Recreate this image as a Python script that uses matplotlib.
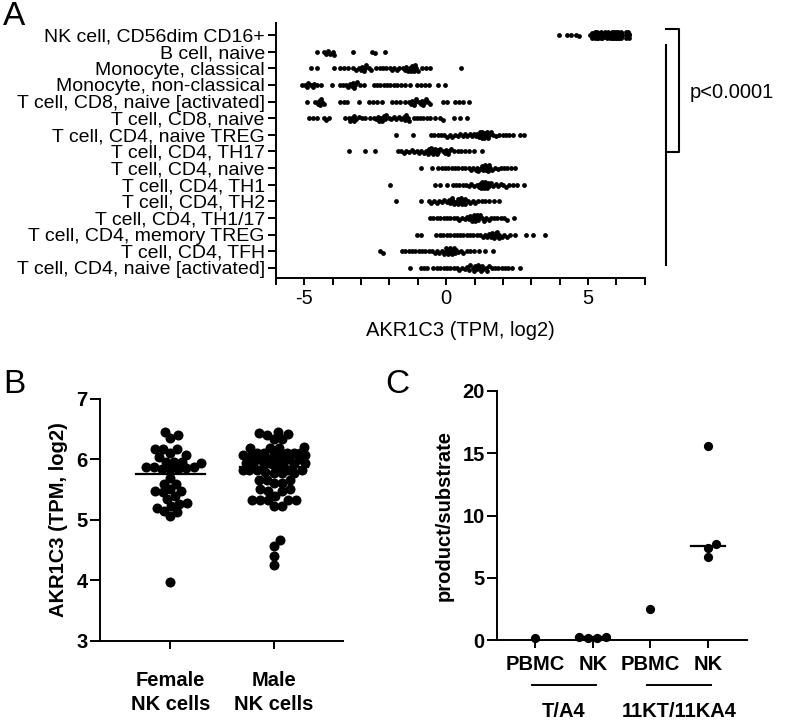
import numpy as np
import matplotlib
matplotlib.use("Agg")
import matplotlib.pyplot as plt
from matplotlib.transforms import blended_transform_factory

plt.rcParams['font.family'] = ['Liberation Sans', 'DejaVu Sans']
plt.rcParams['axes.unicode_minus'] = False

# ---------------- data ----------------
# panel B: NK cells, AKR1C3 (TPM, log2)
female_nk = [6.45, 6.40, 6.35, 6.17, 6.17, 6.17, 6.10, 6.07, 6.04, 5.96, 5.96, 5.94, 5.96,
             5.85, 5.84, 5.84, 5.84, 5.87, 5.87, 5.88, 5.70, 5.60, 5.60, 5.51, 5.46, 5.48,
             5.48, 5.40, 5.35, 5.23, 5.28, 5.26, 5.20, 5.15, 5.13, 5.06, 3.98]
male_nk = [6.45, 6.44, 6.42, 6.40, 6.33, 6.33, 6.21, 6.18, 6.18, 6.18, 6.10, 6.10, 6.10,
           6.10, 6.10, 6.07, 6.07, 6.07, 6.05, 6.05, 6.00, 6.00, 6.00, 6.00, 5.94, 5.94,
           5.94, 5.92, 5.92, 5.92, 5.92, 5.92, 5.83, 5.83, 5.83, 5.83, 5.83, 5.83, 5.79,
           5.77, 5.77, 5.77, 5.66, 5.66, 5.66, 5.61, 5.61, 5.51, 5.51, 5.47, 5.47, 5.40,
           5.33, 5.33, 5.33, 5.33, 5.32, 5.23, 5.23, 4.67, 4.57, 4.40, 4.25]
b_labels = ['Female\nNK cells', 'Male\nNK cells']
b_medians = [5.76, 5.88]

# panel A: cell types, AKR1C3 (TPM, log2)
cell_types = [
    'NK cell, CD56dim CD16+', 'B cell, naive', 'Monocyte, classical',
    'Monocyte, non-classical', 'T cell, CD8, naive [activated]', 'T cell, CD8, naive',
    'T cell, CD4, naive TREG', 'T cell, CD4, TH17', 'T cell, CD4, naive',
    'T cell, CD4, TH1', 'T cell, CD4, TH2', 'T cell, CD4, TH1/17',
    'T cell, CD4, memory TREG', 'T cell, CD4, TFH', 'T cell, CD4, naive [activated]',
]
nk_cd56dim = female_nk + male_nk
b_naive = [-4.55, -4.30, -4.22, -4.15, -4.08, -4.00, -3.95, -3.28, -2.62, -2.52, -2.15]
mono_classical = [-4.78, -4.57, -3.96, -3.73, -3.59, -3.47, -3.28, -3.19, -3.08, -2.99, -2.95,
                  -2.91, -2.85, -2.81, -2.73, -2.65, -2.46, -2.34, -2.23, -2.11, -1.99, -1.91,
                  -1.83, -1.74, -1.65, -1.52, -1.44, -1.40, -1.36, -1.29, -1.23, -1.20, -1.17,
                  -1.15, -1.11, -1.06, -1.00, -0.86, -0.70, -0.56, 0.53]
mono_nonclassical = [-5.08, -4.96, -4.90, -4.88, -4.78, -4.70, -4.67, -4.55, -4.41, -4.02,
                     -3.75, -3.63, -3.52, -3.45, -3.40, -3.32, -3.30, -3.24, -3.20, -3.14,
                     -3.02, -2.91, -2.56, -2.44, -2.32, -2.20, -2.09, -1.97, -1.85, -1.74,
                     -1.59, -1.44, -1.29, -1.03, -0.89, -0.74, -0.62, -0.30, -0.04]
cd8_naive_act = [-4.92, -4.61, -4.53, -4.50, -4.45, -4.42, -4.37, -4.31, -3.75, -3.61, -3.49,
                 -3.08, -2.73, -2.58, -2.44, -2.26, -1.91, -1.76, -1.62, -1.44, -1.32, -1.23,
                 -1.20, -1.15, -1.10, -1.07, -0.97, -0.89, -0.85, -0.80, -0.75, -0.72, -0.64,
                 -0.56, -0.12, 0.02, 0.32, 0.47, 0.61, 0.79]
cd8_naive = [-4.84, -4.69, -4.55, -4.31, -4.22, -4.14, -3.55, -3.43, -3.40, -3.32, -3.25,
             -3.24, -3.17, -3.08, -2.97, -2.85, -2.67, -2.56, -2.46, -2.40, -2.38, -2.29,
             -2.25, -2.20, -2.15, -2.11, -2.03, -1.93, -1.85, -1.76, -1.68, -1.59, -1.50,
             -1.45, -1.41, -1.35, -1.32, -1.15, -1.03, -0.91, -0.80, -0.68, -0.56, -0.39,
             -0.21, -0.12, 0.26, 0.49, 0.73]
cd4_naive_treg = [-1.76, -1.18, -0.53, -0.42, -0.30, -0.18, -0.07, 0.02, 0.12, 0.21, 0.30,
                  0.40, 0.49, 0.58, 0.67, 0.75, 0.83, 0.90, 0.97, 1.04, 1.10, 1.15, 1.18,
                  1.20, 1.25, 1.28, 1.30, 1.35, 1.38, 1.40, 1.45, 1.48, 1.50, 1.57, 1.65,
                  1.75, 1.87, 1.99, 2.11, 2.22, 2.37, 2.60, 2.74]
cd4_th17 = [-3.43, -2.85, -2.50, -1.70, -1.59, -1.50, -1.41, -1.31, -1.22, -1.13, -1.03,
            -0.95, -0.87, -0.79, -0.70, -0.65, -0.62, -0.58, -0.55, -0.48, -0.45, -0.41,
            -0.38, -0.34, -0.30, -0.27, -0.20, -0.12, -0.04, 0.00, 0.06, 0.10, 0.16, 0.28,
            0.40, 0.52, 0.67, 0.82, 0.98, 1.28]
cd4_naive = [-0.89, -0.50, -0.27, -0.15, -0.04, 0.08, 0.20, 0.32, 0.43, 0.55, 0.67, 0.79,
             0.88, 0.96, 1.04, 1.10, 1.13, 1.20, 1.27, 1.30, 1.34, 1.38, 1.41, 1.45, 1.48,
             1.52, 1.55, 1.63, 1.72, 1.82, 1.92, 2.04, 2.16, 2.27, 2.43]
cd4_th1 = [-1.97, -0.39, -0.21, 0.02, 0.23, 0.35, 0.47, 0.59, 0.70, 0.80, 0.89, 0.98, 1.08,
           1.16, 1.20, 1.24, 1.28, 1.31, 1.35, 1.38, 1.42, 1.45, 1.48, 1.52, 1.59, 1.66,
           1.75, 1.84, 1.92, 2.02, 2.11, 2.23, 2.37, 2.49, 2.74]
cd4_th2 = [-1.76, -0.89, -0.62, -0.53, -0.43, -0.34, -0.25, -0.15, -0.06, 0.02, 0.11, 0.15,
           0.19, 0.25, 0.27, 0.35, 0.40, 0.43, 0.48, 0.52, 0.55, 0.60, 0.65, 0.68, 0.76,
           0.84, 0.94, 1.03, 1.14, 1.25, 1.37, 1.52, 1.69, 1.88]
cd4_th1_17 = [-0.56, -0.45, -0.33, -0.21, -0.09, 0.02, 0.14, 0.26, 0.38, 0.47, 0.56, 0.66,
              0.74, 0.82, 0.85, 0.90, 0.93, 0.97, 1.00, 1.04, 1.07, 1.11, 1.14, 1.18, 1.25,
              1.32, 1.41, 1.50, 1.59, 1.70, 1.81, 1.92, 2.04, 2.13, 2.39]
cd4_memory_treg = [-1.03, -0.89, -0.35, -0.23, -0.12, 0.02, 0.14, 0.26, 0.38, 0.49, 0.61,
                   0.73, 0.84, 0.96, 1.08, 1.20, 1.29, 1.37, 1.45, 1.52, 1.59, 1.62, 1.66,
                   1.70, 1.74, 1.78, 1.81, 1.85, 1.88, 1.96, 2.04, 2.13, 2.25, 2.43, 2.81,
                   3.07, 3.48]
cd4_tfh = [-2.32, -2.23, -1.56, -1.44, -1.32, -1.21, -1.09, -0.97, -0.86, -0.74, -0.62,
           -0.50, -0.41, -0.33, -0.25, -0.16, -0.09, -0.02, 0.00, 0.05, 0.08, 0.12, 0.15,
           0.19, 0.22, 0.26, 0.30, 0.34, 0.42, 0.52, 0.61, 0.73, 0.84, 0.98, 1.17, 1.37, 1.64]
cd4_naive_act = [-1.29, -0.89, -0.77, -0.66, -0.45, -0.33, -0.21, -0.09, 0.02, 0.14, 0.26,
                 0.38, 0.47, 0.56, 0.66, 0.75, 0.80, 0.84, 0.94, 0.98, 1.03, 1.08, 1.13,
                 1.18, 1.22, 1.27, 1.31, 1.41, 1.45, 1.50, 1.61, 1.72, 1.84, 1.96, 2.08,
                 2.19, 2.31, 2.60]
a_rows = [nk_cd56dim, b_naive, mono_classical, mono_nonclassical, cd8_naive_act, cd8_naive,
          cd4_naive_treg, cd4_th17, cd4_naive, cd4_th1, cd4_th2, cd4_th1_17, cd4_memory_treg,
          cd4_tfh, cd4_naive_act]

# panel C: product/substrate ratio
c_cells = ['PBMC', 'NK', 'PBMC', 'NK']
c_values = [[0.2], [0.18, 0.25, 0.22, 0.20], [2.5], [15.6, 7.75, 7.43, 6.68]]
c_substrates = ['T/A4', '11KT/11KA4']


def swarm(vals_px, dmin, step=0.5, cap=400):
    # simple beeswarm: offsets (px) perpendicular to the value axis,
    # limited to |offset| <= cap (dots may then overlap)
    vals_px = np.asarray(vals_px, float)
    offs = np.zeros(len(vals_px))
    cands = [0.0]
    k = 1
    while k * step <= cap:
        cands += [k * step, -k * step]
        k += 1
    pv, po = [], []
    for i in np.argsort(vals_px):
        v = vals_px[i]
        best, best_d = 0.0, -1
        for c in cands:
            d = min([np.hypot(a - v, b - c) for a, b in zip(pv, po)] or [1e9])
            if d >= dmin:
                best = c
                break
            if d > best_d:
                best, best_d = c, d
        offs[i] = best
        pv.append(v)
        po.append(best)
    return offs


W, H, DPI = 7.93, 7.2, 100
fig = plt.figure(figsize=(W, H), dpi=DPI)
FS = 14.5


def px_per_unit(ax):
    pos = ax.get_position()
    x0, x1 = ax.get_xlim()
    y0, y1 = ax.get_ylim()
    return pos.width * W * DPI / abs(x1 - x0), pos.height * H * DPI / abs(y1 - y0)


def style_axes(ax, lw=1.4):
    for s in ['top', 'right']:
        ax.spines[s].set_visible(False)
    for s in ['left', 'bottom']:
        ax.spines[s].set_linewidth(lw)
    ax.tick_params(width=lw, length=5, direction='out')


def bold_ticklabels(ax):
    for t in ax.get_xticklabels() + ax.get_yticklabels():
        t.set_fontsize(FS)
        t.set_fontweight('bold')


# ---------------- panel A ----------------
axA = fig.add_axes([0.348, 0.614, 0.465, 0.354])
axA.set_xlim(-6, 7)
axA.set_ylim(14.6, -0.72)
style_axes(axA)
sx, sy = px_per_unit(axA)
for i, vals in enumerate(a_rows):
    off = swarm(np.array(vals) * sx, dmin=3.0, step=0.5, cap=3.0)
    axA.scatter(vals, i + off / sy, s=12, color='black', linewidths=0, clip_on=False)
axA.set_yticks(range(len(cell_types)))
axA.set_yticklabels(cell_types, fontsize=14)
axA.set_xticks([-5, 0, 5])
axA.set_xticks(range(-6, 8), minor=True)
axA.tick_params(axis='x', which='both', width=1.4, length=5, labelsize=FS, pad=3)
axA.tick_params(axis='y', pad=2, length=6)
axA.set_xlabel('AKR1C3 (TPM, log2)', fontsize=FS, labelpad=9)

tr = blended_transform_factory(axA.transAxes, axA.transData)
axA.plot([1.057, 1.092, 1.092, 1.057], [-0.36, -0.36, 7.03, 7.03], color='black',
         lw=1.5, transform=tr, clip_on=False)
axA.plot([1.057, 1.057], [0.6, 13.82], color='black', lw=1.5, transform=tr, clip_on=False)
axA.text(1.122, 3.43, 'p<0.0001', transform=tr, fontsize=FS, va='center', ha='left')

# ---------------- panel B ----------------
axB = fig.add_axes([0.126, 0.110, 0.306, 0.336])
axB.set_xlim(-0.68, 1.66)
axB.set_ylim(3, 7)
style_axes(axB)
sx, sy = px_per_unit(axB)
for i, vals in enumerate([female_nk, male_nk]):
    off = swarm(np.array(vals) * sy, dmin=8.0, step=0.5, cap=31)
    off = off - np.median(off)
    axB.scatter(i + off / sx, vals, s=52, color='black', linewidths=0, clip_on=False, zorder=3)
    axB.plot([i - 0.33, i + 0.33], [b_medians[i]] * 2, color='black', lw=1.6, zorder=4)
axB.set_xticks([0, 1])
axB.set_xticklabels(b_labels)
axB.set_yticks([3, 4, 5, 6, 7])
axB.tick_params(axis='x', length=6, pad=16)
axB.tick_params(axis='y', length=7, pad=2)
bold_ticklabels(axB)
for t in axB.get_xticklabels():
    t.set_linespacing(1.3)
axB.set_ylabel('AKR1C3 (TPM, log2)', fontsize=FS, fontweight='bold', labelpad=6)

# ---------------- panel C ----------------
axC = fig.add_axes([0.627, 0.111, 0.315, 0.346])
axC.set_xlim(-0.66, 3.68)
axC.set_ylim(0, 20)
style_axes(axC)
sx, sy = px_per_unit(axC)
for i, vals in enumerate(c_values):
    off = swarm(np.array(vals) * sy, dmin=9.0, step=0.5)
    off = off - np.median(off)
    axC.scatter(i + off / sx, vals, s=44, color='black', linewidths=0, clip_on=False, zorder=3)
    if len(vals) > 1:
        m = np.median(vals)
        axC.plot([i - 0.29, i + 0.29], [m, m], color='black', lw=1.6, zorder=4)
axC.set_xticks(range(len(c_cells)))
axC.set_xticklabels(c_cells)
axC.set_yticks([0, 5, 10, 15, 20])
axC.tick_params(axis='x', length=6, pad=5)
axC.tick_params(axis='y', length=7, pad=2)
bold_ticklabels(axC)
axC.set_ylabel('product/substrate', fontsize=FS, fontweight='bold', labelpad=6)

trC = blended_transform_factory(axC.transData, axC.transAxes)
for k, name in enumerate(c_substrates):
    x0 = 2 * k
    axC.plot([x0 - 0.05, x0 + 1.05], [-0.18, -0.18], color='black', lw=1.4,
             transform=trC, clip_on=False)
    axC.text(x0 + 0.5, -0.285, name, transform=trC, fontsize=FS, fontweight='bold',
             ha='center', va='center')

# panel letters
fig.text(3 / 793, 1 - 25 / 720, 'A', fontsize=24, va='baseline', ha='left')
fig.text(3 / 793, 1 - 393 / 720, 'B', fontsize=24, va='baseline', ha='left')
fig.text(385 / 793, 1 - 393 / 720, 'C', fontsize=24, va='baseline', ha='left')

fig.savefig('out.png', dpi=DPI)
